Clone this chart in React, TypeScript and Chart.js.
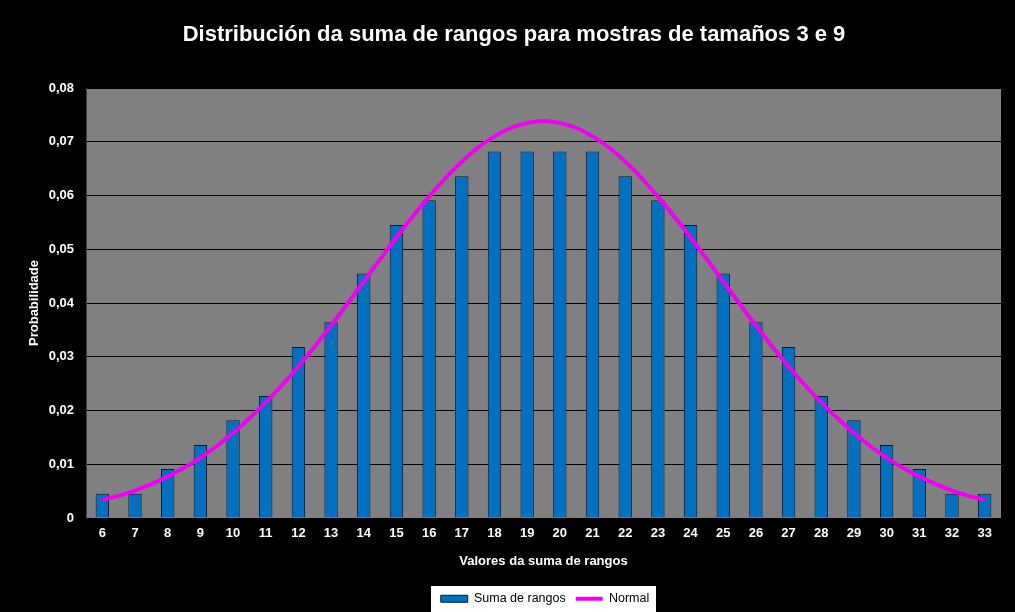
import React, { useEffect, useRef } from "react";
import { Chart, registerables } from "chart.js";

Chart.register(...registerables);

const categories = [
  "6", "7", "8", "9", "10", "11", "12", "13", "14", "15", "16", "17", "18", "19",
  "20", "21", "22", "23", "24", "25", "26", "27", "28", "29", "30", "31", "32", "33",
];

const sumaDeRangos = [
  0.0045, 0.0045, 0.0091, 0.0136, 0.0182, 0.0227, 0.0318, 0.0364, 0.0455, 0.0545,
  0.0591, 0.0636, 0.0682, 0.0682, 0.0682, 0.0682, 0.0636, 0.0591, 0.0545, 0.0455,
  0.0364, 0.0318, 0.0227, 0.0182, 0.0136, 0.0091, 0.0045, 0.0045,
];

const normal = [
  0.0033, 0.0051, 0.0077, 0.0112, 0.0158, 0.0215, 0.0282, 0.0358, 0.044, 0.0522,
  0.0598, 0.0663, 0.071, 0.0735, 0.0735, 0.071, 0.0663, 0.0598, 0.0522, 0.044,
  0.0358, 0.0282, 0.0215, 0.0158, 0.0112, 0.0077, 0.0051, 0.0033,
];

const yTicks = [0, 0.01, 0.02, 0.03, 0.04, 0.05, 0.06, 0.07, 0.08];

const titleText = "Distribución da suma de rangos para mostras de tamaños 3 e 9";
const xTitle = "Valores da suma de rangos";
const yTitle = "Probabilidade";

const FONT = 'Arial, "Liberation Sans", sans-serif';

const backgroundPlugin = {
  id: "bgPlugin",
  afterLayout(chart: any) {
    const lg = chart.legend;
    if (lg) {
      lg.left += 31;
      lg.right += 31;
    }
  },
  beforeDraw(chart: any) {
    const { ctx, chartArea } = chart;
    ctx.save();
    ctx.fillStyle = "#000000";
    ctx.fillRect(0, 0, chart.width, chart.height);
    ctx.fillStyle = "#808080";
    ctx.fillRect(chartArea.left, chartArea.top, chartArea.right - chartArea.left, chartArea.bottom - chartArea.top);
    const lg = chart.legend;
    if (lg && lg.legendHitBoxes && lg.legendHitBoxes.length) {
      const hbs = lg.legendHitBoxes;
      let l = Infinity, r = -Infinity, t = Infinity, b = -Infinity;
      hbs.forEach((h: any) => {
        l = Math.min(l, h.left);
        r = Math.max(r, h.left + h.width);
        t = Math.min(t, h.top);
        b = Math.max(b, h.top + h.height);
      });
      const x0 = Math.round(l - 11) + 0.5;
      const y0 = Math.round(t - 8) + 0.5;
      const w = Math.round(r - l + 17);
      const h = Math.round(b - t + 16);
      ctx.fillStyle = "#FFFFFF";
      ctx.fillRect(x0, y0, w, h);
      ctx.strokeStyle = "#000000";
      ctx.lineWidth = 1;
      ctx.strokeRect(x0, y0, w, h);
    }
    ctx.restore();
  },
};

export default function App() {
  const canvasRef = useRef<HTMLCanvasElement | null>(null);

  useEffect(() => {
    document.body.style.margin = "0";
    const canvas = canvasRef.current;
    if (!canvas) return;
    Chart.defaults.font.family = FONT;
    const chart = new Chart(canvas, {
      type: "bar",
      data: {
        labels: categories,
        datasets: [
          {
            type: "line",
            label: "Normal",
            data: normal,
            borderColor: "#F000F0",
            backgroundColor: "#F000F0",
            borderWidth: 4,
            pointRadius: 0,
            pointStyle: "line",
            tension: 0.4,
            order: 0,
          } as any,
          {
            type: "bar",
            label: "Suma de rangos",
            data: sumaDeRangos,
            backgroundColor: "#0070C0",
            borderColor: "#0B1A33",
            borderWidth: 1,
            barPercentage: 0.41,
            categoryPercentage: 1,
            pointStyle: "rect",
            order: 1,
          } as any,
        ],
      },
      options: {
        responsive: false,
        animation: false,
        layout: { padding: { left: 27, right: 14, top: 10, bottom: -3 } },
        plugins: {
          title: {
            display: true,
            text: titleText,
            color: "#FFFFFF",
            font: { family: FONT, size: 22, weight: "bold" },
            padding: { top: 12, bottom: 39.6 },
          },
          legend: {
            position: "bottom",
            reverse: true,
            labels: {
              color: "#000000",
              font: { family: FONT, size: 12.5 },
              usePointStyle: true,
              pointStyleWidth: 27,
              boxHeight: 7,
              padding: 10,
            },
          },
          tooltip: { enabled: false },
        },
        scales: {
          x: {
            afterFit: (scale: any) => {
              scale.height = 64.5;
            },
            grid: { display: false, drawTicks: false },
            border: { display: true, color: "#000000", width: 1 },
            ticks: {
              color: "#FFFFFF",
              font: { family: FONT, size: 13, weight: "bold" },
              padding: 8,
              maxRotation: 0,
              autoSkip: false,
            },
            title: {
              display: true,
              text: xTitle,
              color: "#FFFFFF",
              font: { family: FONT, size: 13, weight: "bold" },
              padding: { top: 11, bottom: 13 },
            },
          },
          y: {
            min: 0,
            max: 0.08,
            afterFit: (scale: any) => {
              scale.width = 59;
            },
            afterBuildTicks: (scale: any) => {
              scale.ticks = yTicks.map((v) => ({ value: v }));
            },
            grid: { color: "#000000", lineWidth: 1, drawTicks: false },
            border: { display: true, color: "#404040", width: 1 },
            ticks: {
              color: "#FFFFFF",
              font: { family: FONT, size: 13, weight: "bold" },
              padding: 12,
              callback: (v: any) => (v === 0 ? "0" : Number(v).toFixed(2).replace(".", ",")),
            },
            title: {
              display: true,
              text: yTitle,
              color: "#FFFFFF",
              font: { family: FONT, size: 13, weight: "bold" },
              padding: { top: 0, bottom: 5 },
            },
          },
        },
      },
      plugins: [backgroundPlugin],
    } as any);
    return () => chart.destroy();
  }, []);

  return (
    <div style={{ position: "absolute", left: 0, top: 0, width: 1015, height: 612, background: "#000" }}>
      <canvas ref={canvasRef} width={1015} height={612} style={{ display: "block", width: 1015, height: 612 }} />
    </div>
  );
}
